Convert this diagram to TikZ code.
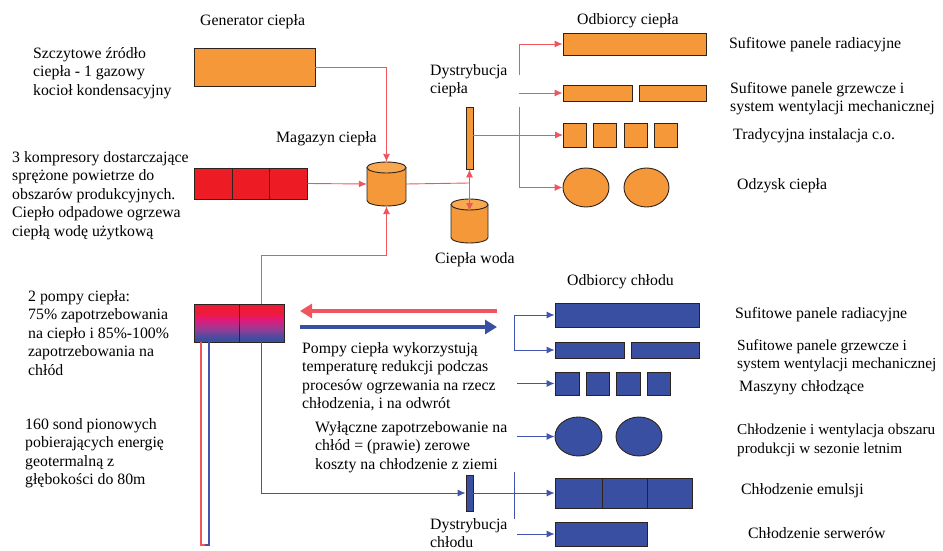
\documentclass[tikz,border=0pt]{standalone}
\usepackage{fontspec}
\setmainfont{Liberation Serif}
\usetikzlibrary{arrows.meta,shapes.geometric}
\definecolor{heatorange}{RGB}{245,152,58}
\definecolor{heattop}{RGB}{248,168,80}
\definecolor{coldblue}{RGB}{57,79,161}
\definecolor{comred}{RGB}{237,28,36}
\definecolor{linered}{RGB}{240,85,95}
\definecolor{lineblue}{RGB}{65,85,175}
\definecolor{boxline}{RGB}{45,35,30}
\definecolor{pumpred}{RGB}{238,26,58}
\definecolor{pumppink}{RGB}{228,24,120}
\definecolor{pumpmid}{RGB}{150,60,150}
\pgfdeclareverticalshading{pumpshade}{100bp}{color(0bp)=(coldblue); color(29bp)=(coldblue); color(42bp)=(pumpmid); color(55bp)=(pumppink); color(63bp)=(pumpred); color(100bp)=(pumpred)}
\begin{document}
\begin{tikzpicture}[x=1pt,y=-1pt,
  txt/.style={anchor=north west, inner sep=0, align=left, font=\fontsize{15.8}{18.6}\selectfont},
  lbl/.style={anchor=west, inner sep=0, font=\fontsize{15.8}{18.6}\selectfont},
  hbox/.style={draw=boxline, fill=heatorange, line width=0.9pt, inner sep=0},
  cbox/.style={draw=boxline, fill=coldblue, line width=0.9pt, inner sep=0},
  rbox/.style={draw=boxline, fill=comred, line width=0.9pt, inner sep=0},
  pbox/.style={draw=boxline, shading=pumpshade, line width=0.9pt, inner sep=0},
  hell/.style={ellipse, draw=boxline, fill=heatorange, line width=0.9pt, inner sep=0},
  cell/.style={ellipse, draw=boxline, fill=coldblue, line width=0.9pt, inner sep=0},
  hline/.style={draw=linered, line width=0.9pt},
  cline/.style={draw=lineblue, line width=0.9pt},
  harr/.style={hline, -{Latex[length=8pt,width=7pt]}},
  carr/.style={cline, -{Latex[length=8pt,width=7pt]}},
  bar/.style={inner sep=0, minimum width=7pt, line width=0.9pt, draw=boxline}
]
\useasboundingbox (0,0) rectangle (943,551);

% ---------- texts ----------
\node[lbl] (tgen) at (200,22) {Generator ciepła};
\node[txt] (tszc) at (33,47) {Szczytowe źródło\\ciepła - 1 gazowy\\kocioł kondensacyjny};
\node[lbl] (tmag) at (276,139) {Magazyn ciepła};
\node[txt] (tkomp) at (12,151) {3 kompresory dostarczające\\sprężone powietrze do\\obszarów produkcyjnych.\\Ciepło odpadowe ogrzewa\\ciepłą wodę użytkową};
\node[txt] (thd) at (430,64) {Dystrybucja\\ciepła};
\node[lbl] (twoda) at (435,260) {Ciepła woda};
\node[lbl] (todc) at (577,21) {Odbiorcy ciepła};
\node[lbl] (thr1) at (729,45) {Sufitowe panele radiacyjne};
\node[txt] (thr2) at (730,82) {Sufitowe panele grzewcze i\\system wentylacji mechanicznej};
\node[lbl] (thr3) at (733,136) {Tradycyjna instalacja c.o.};
\node[lbl] (thr4) at (737,186) {Odzysk ciepła};
\node[txt] (tpom) at (28,290) {2 pompy ciepła:\\75\% zapotrzebowania\\na ciepło i 85\%-100\%\\zapotrzebowania na\\chłód};
\node[txt] (tsond) at (25,418) {160 sond pionowych\\pobierających energię\\geotermalną z\\głębokości do 80m};
\node[txt] (tpc) at (302,342) {Pompy ciepła wykorzystują\\temperaturę redukcji podczas\\procesów ogrzewania na rzecz\\chłodzenia, i na odwrót};
\node[txt] (twyl) at (315,421) {Wyłączne zapotrzebowanie na\\chłód = (prawie) zerowe\\koszty na chłodzenie z ziemi};
\node[txt] (tcd) at (430,518) {Dystrybucja\\chłodu};
\node[lbl] (todch) at (567,282) {Odbiorcy chłodu};
\node[lbl] (tcr1) at (735,315) {Sufitowe panele radiacyjne};
\node[txt, font=\fontsize{15.4}{18.6}\selectfont] (tcr2) at (737,339) {Sufitowe panele grzewcze i\\system wentylacji mechanicznej};
\node[lbl] (tcr3) at (739,388) {Maszyny chłodzące};
\node[txt, font=\fontsize{15.2}{18.6}\selectfont] (tcr4) at (737,424) {Chłodzenie i wentylacja obszaru\\produkcji w sezonie letnim};
\node[lbl] (tcr5) at (741,491) {Chłodzenie emulsji};
\node[lbl] (tcr6) at (748,533) {Chłodzenie serwerów};

% ---------- heat generators ----------
\node[hbox, minimum width=121pt, minimum height=38pt] (gen) at (254.5,67) {};
\node[rbox, minimum width=38pt, minimum height=31pt] (k1) at (213,183.5) {};
\node[rbox, minimum width=37pt, minimum height=31pt] (k2) at (250.5,183.5) {};
\node[rbox, minimum width=38pt, minimum height=31pt] (k3) at (288,183.5) {};

% heat pump (gradient)
\node[pbox, minimum width=45pt, minimum height=38pt] (p1) at (216.5,323) {};
\node[pbox, minimum width=45pt, minimum height=38pt] (p2) at (261.5,323) {};

% ground probe pipe
\coordinate (pr1) at (201,342);
\coordinate (pr2) at (201,545);
\coordinate (pb1) at (209,342);
\coordinate (pb2) at (209,545);
\coordinate (pm) at (205,545);
\draw[draw=linered, line width=1.4pt] (pr1) -- (pr2) -- (pm);
\draw[draw=lineblue, line width=1.4pt] (pb1) -- (pb2) -- (pm);

% ---------- cylinders ----------
\node[inner sep=0, minimum width=39pt, minimum height=44pt] (mag) at (386.5,184) {};
\fill[heatorange] (367,167.5) -- (367,200.5) arc[start angle=180, end angle=360, x radius=19.5, y radius=-5.5] -- (406,167.5) -- cycle;
\draw[boxline, line width=0.9pt] (367,167.5) -- (367,200.5) arc[start angle=180, end angle=360, x radius=19.5, y radius=-5.5] -- (406,167.5);
\draw[boxline, fill=heattop, line width=0.9pt] (386.5,167.5) ellipse[x radius=19.5, y radius=5.5];

\node[inner sep=0, minimum width=37pt, minimum height=44pt] (woda) at (469.5,221) {};
\fill[heatorange] (451,204.5) -- (451,237.5) arc[start angle=180, end angle=360, x radius=18.5, y radius=-5.5] -- (488,204.5) -- cycle;
\draw[boxline, line width=0.9pt] (451,204.5) -- (451,237.5) arc[start angle=180, end angle=360, x radius=18.5, y radius=-5.5] -- (488,204.5);
\draw[boxline, fill=heattop, line width=0.9pt] (469.5,204.5) ellipse[x radius=18.5, y radius=5.5];
\coordinate (wodain) at (469.5,211);

% ---------- distribution bars ----------
\node[bar, fill=heatorange, minimum height=62pt] (hd) at (469.5,138) {};
\node[bar, fill=coldblue, minimum height=36pt] (cd) at (469.5,493) {};

% ---------- heat consumers ----------
\node[hbox, minimum width=143pt, minimum height=22pt] (h1) at (634.5,44) {};
\node[hbox, minimum width=69pt, minimum height=16pt] (h2a) at (597.5,93) {};
\node[hbox, minimum width=67pt, minimum height=16pt] (h2b) at (672.5,93) {};
\node[hbox, minimum width=23pt, minimum height=24pt] (h3a) at (575,135) {};
\node[hbox, minimum width=23pt, minimum height=24pt] (h3b) at (605,135) {};
\node[hbox, minimum width=23pt, minimum height=24pt] (h3c) at (635.5,135) {};
\node[hbox, minimum width=23pt, minimum height=24pt] (h3d) at (665.5,135) {};
\node[hell, minimum width=46pt, minimum height=39pt] (h4a) at (586,187.5) {};
\node[hell, minimum width=45pt, minimum height=39pt] (h4b) at (646.5,187.5) {};

% ---------- cold consumers ----------
\node[cbox, minimum width=144pt, minimum height=24pt] (c1) at (627,315) {};
\node[cbox, minimum width=69pt, minimum height=16pt] (c2a) at (589.5,350) {};
\node[cbox, minimum width=68pt, minimum height=16pt] (c2b) at (665,350) {};
\node[cbox, minimum width=24pt, minimum height=23pt] (c3a) at (567,383.5) {};
\node[cbox, minimum width=23pt, minimum height=23pt] (c3b) at (597.5,383.5) {};
\node[cbox, minimum width=24pt, minimum height=23pt] (c3c) at (628,383.5) {};
\node[cbox, minimum width=23pt, minimum height=23pt] (c3d) at (658.5,383.5) {};
\node[cell, minimum width=47pt, minimum height=39pt] (c4a) at (578.5,436.5) {};
\node[cell, minimum width=46pt, minimum height=39pt] (c4b) at (639,436.5) {};
\node[cbox, minimum width=47pt, minimum height=30pt] (c5a) at (578.5,493) {};
\node[cbox, minimum width=45pt, minimum height=30pt] (c5b) at (624.5,493) {};
\node[cbox, minimum width=45pt, minimum height=30pt] (c5c) at (669.5,493) {};
\node[cbox, minimum width=92pt, minimum height=24pt] (c6) at (601,534) {};

% ---------- heat connectors ----------
\coordinate (gm) at (386.5,67);
\draw[harr] (gen.east) -- (gm) -- (mag.north);
\draw[harr] (k3.east) -- (mag.west);
\coordinate (pu) at (261.5,255);
\coordinate (pm2) at (386.5,255);
\draw[harr] (p2.north) -- (pu) -- (pm2) -- (mag.south);
\coordinate (j1) at (469.5,183);
\draw[hline] (mag.east) -- (j1);
\draw[harr] (j1) -- (hd.south);
\draw[harr] (j1) -- (wodain);
\draw[harr] (hd.east |- h3a.west) -- (h3a.west);
\coordinate (b1) at (519,44);
\coordinate (b2) at (519,75);
\coordinate (b3) at (519,107);
\coordinate (b4) at (519,187.5);
\coordinate (b5) at (519,93);
\draw[harr] (b2) -- (b1) -- (h1.west);
\draw[harr] (b5) -- (h2a.west);
\draw[harr] (b3) -- (b4) -- (h4a.west);

% ---------- pump arrows ----------
\coordinate (ar1) at (497,311);
\coordinate (ar2) at (300,311);
\coordinate (ab1) at (300,327);
\coordinate (ab2) at (497,327);
\draw[draw=linered, line width=4.5pt, -{Triangle[length=12pt,width=14pt]}] (ar1) -- (ar2);
\draw[draw=coldblue, line width=4pt, -{Triangle[length=12pt,width=14pt]}] (ab1) -- (ab2);

% ---------- cold connectors ----------
\coordinate (pd) at (261.5,493);
\draw[carr] (p2.south) -- (pd) -- (cd.west);
\draw[carr] (cd.east) -- (c5a.west);
\coordinate (cb1) at (514,472);
\coordinate (cb2) at (514,519);
\draw[cline] (cb1) -- (cb2);
\coordinate (q1) at (514,315);
\coordinate (q2) at (514,350);
\draw[carr] (q2) -- (q1) -- (c1.west);
\draw[carr] (q2) -- (c2a.west);
\coordinate (s3) at (517,383.5);
\coordinate (s4) at (517,436.5);
\coordinate (s6) at (517,534);
\draw[carr] (s3) -- (c3a.west);
\draw[carr] (s4) -- (c4a.west);
\draw[carr] (s6) -- (c6.west);
\end{tikzpicture}
\end{document}
